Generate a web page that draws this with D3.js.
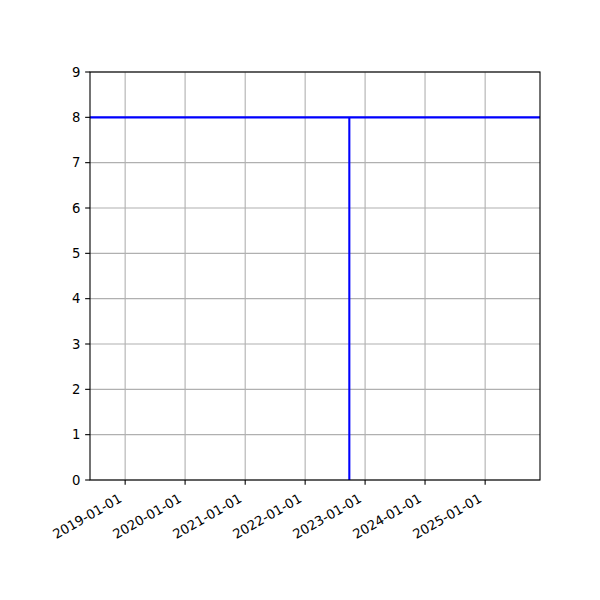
<!DOCTYPE html>
<html>
<head>
<meta charset="utf-8">
<script src="https://cdn.jsdelivr.net/npm/d3@7"></script>
<style>
  body { margin: 0; background: #fff; }
  svg text { font-family: "DejaVu Sans", sans-serif; font-size: 13.2px; fill: #000; }
</style>
</head>
<body>
<svg id="chart" width="600" height="600"></svg>
<script>
// x limits and tick dates
const xDomain = ["2018-06-01", "2025-12-01"]
const xTickLabels = ["2019-01-01", "2020-01-01", "2021-01-01", "2022-01-01", "2023-01-01", "2024-01-01", "2025-01-01"]
const yTicks = [0, 1, 2, 3, 4, 5, 6, 7, 8, 9]
// horizontal line level and vertical line (date, bottom, top)
const hLineValue = [8]
const vLines = [{ date: "2022-09-27", y0: 0, y1: 8 }]

const parse = d3.utcParse("%Y-%m-%d")
const margin = { left: 90, right: 60, top: 72, bottom: 120 }
const width = 600
const height = 600

const svg = d3.select("#chart")
const x = d3.scaleUtc()
  .domain(xDomain.map(parse))
  .range([margin.left, width - margin.right])
const y = d3.scaleLinear()
  .domain([0, 9])
  .range([height - margin.bottom, margin.top])

const tickLen = 4.86
const gridColor = "#b0b0b0"

// grid lines
const grid = svg.append("g")
grid.selectAll(".gx")
  .data(xTickLabels)
  .join("line")
  .attr("x1", (d) => x(parse(d)))
  .attr("x2", (d) => x(parse(d)))
  .attr("y1", y(0))
  .attr("y2", y(9))
  .attr("stroke", gridColor)
  .attr("stroke-width", 1.1)
grid.selectAll(".gy")
  .data(yTicks)
  .join("line")
  .attr("x1", x.range()[0])
  .attr("x2", x.range()[1])
  .attr("y1", (d) => y(d))
  .attr("y2", (d) => y(d))
  .attr("stroke", gridColor)
  .attr("stroke-width", 1.1)

// data lines
svg.selectAll(".hline")
  .data(hLineValue)
  .join("line")
  .attr("x1", x.range()[0])
  .attr("x2", x.range()[1])
  .attr("y1", (d) => y(d))
  .attr("y2", (d) => y(d))
  .attr("stroke", "#0000ff")
  .attr("stroke-width", 2.1)
svg.selectAll(".vline")
  .data(vLines)
  .join("line")
  .attr("x1", (d) => x(parse(d.date)))
  .attr("x2", (d) => x(parse(d.date)))
  .attr("y1", (d) => y(d.y0))
  .attr("y2", (d) => y(d.y1))
  .attr("stroke", "#0000ff")
  .attr("stroke-width", 2.1)

// frame
svg.append("rect")
  .attr("x", x.range()[0])
  .attr("y", y.range()[1])
  .attr("width", x.range()[1] - x.range()[0])
  .attr("height", y.range()[0] - y.range()[1])
  .attr("fill", "none")
  .attr("stroke", "#000")
  .attr("stroke-width", 1.1)

// x ticks and rotated labels
const xt = svg.append("g").selectAll("g")
  .data(xTickLabels)
  .join("g")
  .attr("transform", (d) => `translate(${x(parse(d))},${y(0)})`)
xt.append("line")
  .attr("y2", tickLen)
  .attr("stroke", "#000")
  .attr("stroke-width", 1.1)
xt.append("text")
  .attr("text-anchor", "end")
  .attr("transform", "translate(-2.5,21) rotate(-30)")
  .text((d) => d)

// y ticks and labels
const yt = svg.append("g").selectAll("g")
  .data(yTicks)
  .join("g")
  .attr("transform", (d) => `translate(${x.range()[0]},${y(d)})`)
yt.append("line")
  .attr("x2", -tickLen)
  .attr("stroke", "#000")
  .attr("stroke-width", 1.1)
yt.append("text")
  .attr("x", -tickLen - 4.86)
  .attr("dy", "0.35em")
  .attr("text-anchor", "end")
  .text((d) => d)
</script>
</body>
</html>
